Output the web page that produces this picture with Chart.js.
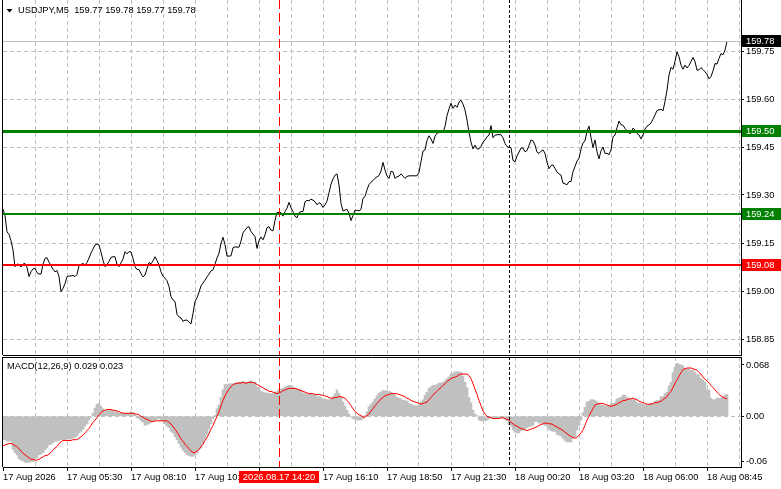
<!DOCTYPE html>
<html>
<head>
<meta charset="utf-8">
<script src="https://cdn.jsdelivr.net/npm/chart.js@4.4.1/dist/chart.umd.min.js"></script>
<style>
  html, body { margin: 0; padding: 0; background: #fff; }
  #wrap { position: relative; width: 781px; height: 489px; overflow: hidden; background: #fff; }
  #priceChart { position: absolute; left: 0; top: 0; }
  #macdChart { position: absolute; left: 0; top: 357px; }
</style>
</head>
<body>
<div id="wrap">
  <canvas id="priceChart" width="781" height="356"></canvas>
  <canvas id="macdChart" width="781" height="132"></canvas>
</div>
<script>
// chart data (one value per M5 bar)
const symbolName = 'USDJPY,M5';
const lastBar = [159.77, 159.78, 159.77, 159.78];

const closes = [
  159.256,159.235,159.185,159.177,159.157,159.128,159.076,159.084,159.083,159.075,
  159.084,159.086,159.074,159.045,159.060,159.069,159.071,159.057,159.053,159.053,
  159.084,159.102,159.104,159.090,159.080,159.068,159.060,159.064,159.045,158.998,
  159.008,159.023,159.045,159.047,159.047,159.049,159.045,159.052,159.079,159.083,
  159.086,159.081,159.089,159.103,159.119,159.131,159.144,159.147,159.144,159.121,
  159.096,159.076,159.082,159.093,159.105,159.107,159.107,159.083,159.076,159.088,
  159.100,159.123,159.116,159.123,159.122,159.102,159.076,159.067,159.067,159.054,
  159.044,159.050,159.070,159.089,159.085,159.094,159.107,159.095,159.082,159.060,
  159.046,159.040,159.032,159.014,158.982,158.972,158.967,158.927,158.919,158.916,
  158.905,158.909,158.909,158.903,158.897,158.930,158.967,158.979,158.996,
  159.016,159.025,159.034,159.044,159.053,159.063,
  159.066,159.084,159.103,159.118,159.149,159.168,159.145,159.109,159.109,159.110,
  159.135,159.138,159.137,159.137,159.156,159.182,159.190,159.198,159.201,159.186,
  159.178,159.170,159.133,159.157,159.169,159.160,159.175,159.198,159.201,159.190,
  159.188,159.221,159.246,159.245,159.245,159.234,159.248,159.259,159.277,159.260,
  159.248,159.234,159.229,159.245,159.248,159.248,159.279,159.283,159.282,159.287,
  159.284,159.279,159.269,159.276,159.272,159.261,159.269,159.281,159.307,159.334,
  159.350,159.362,159.366,159.331,159.274,159.250,159.253,159.255,159.243,159.220,
  159.236,159.253,159.252,159.250,159.255,159.290,159.295,159.316,159.333,159.340,
  159.345,159.352,159.357,159.361,
  159.375,159.402,159.378,159.360,159.352,159.374,159.372,159.352,159.357,159.359,
  159.366,159.359,159.352,159.358,159.360,159.360,159.360,159.360,159.360,159.371,
  159.405,159.437,159.441,159.471,159.485,159.475,159.461,159.484,159.493,159.495,
  159.503,159.496,159.514,159.548,159.569,159.587,159.571,159.581,159.574,159.590,
  159.596,159.584,159.566,159.534,159.496,159.465,159.444,159.456,159.444,159.444,
  159.452,159.465,159.472,159.482,159.487,159.517,159.479,159.487,159.488,159.489,
  159.488,159.479,159.461,159.451,159.449,159.448,159.408,159.404,159.422,159.434,
  159.447,159.447,159.435,159.439,159.455,159.472,159.469,159.456,159.434,159.430,
  159.437,159.441,159.430,159.403,159.382,159.392,159.394,159.383,159.372,159.366,
  159.362,159.337,159.335,159.332,159.342,
  159.342,159.373,159.389,159.406,159.415,159.443,159.463,159.469,159.500,159.515,
  159.480,159.448,159.472,159.435,159.413,159.438,159.450,159.430,159.430,159.426,
  159.441,159.482,159.487,159.510,159.531,159.520,159.518,159.508,159.501,159.493,
  159.493,159.509,159.503,159.492,159.488,159.475,159.488,159.506,159.515,159.519,
  159.525,159.537,159.550,159.564,159.566,159.568,159.563,159.592,159.628,159.675,
  159.699,159.693,159.717,159.747,159.732,159.706,159.693,159.706,159.697,159.705,
  159.717,159.730,159.717,159.690,159.691,159.698,159.692,159.685,159.677,159.663,
  159.670,159.688,159.711,159.709,159.727,159.742,159.738,159.753,159.780
];

const macdHist = [
  -0.031,-0.031,-0.033,-0.033,-0.033,-0.044,-0.048,-0.051,-0.056,-0.058,
  -0.059,-0.061,-0.061,-0.061,-0.060,-0.060,-0.056,-0.055,-0.051,-0.050,
  -0.048,-0.044,-0.042,-0.038,-0.037,-0.035,-0.033,-0.033,-0.032,-0.031,
  -0.031,-0.031,-0.030,-0.030,-0.030,-0.029,-0.028,-0.026,-0.022,-0.020,
  -0.017,-0.013,-0.010,-0.005,-0.001,
  0.004,0.011,0.016,0.017,0.013,0.010,0.006,0.008,0.008,0.008,
  0.007,0.006,0.006,0.004,0.004,0.004,0.004,0.004,0.004,0.006,
  0.005,0.002,-0.002,-0.003,-0.006,-0.008,-0.012,-0.011,-0.010,-0.008,
  -0.007,-0.005,-0.004,-0.003,-0.005,-0.006,-0.010,-0.013,-0.015,-0.020,
  -0.022,-0.027,-0.031,-0.036,-0.041,-0.045,-0.048,-0.051,-0.052,-0.053,
  -0.053,-0.051,-0.048,-0.044,-0.042,-0.036,-0.030,-0.024,-0.017,-0.010,
  -0.003,0.001,0.010,0.015,0.025,0.035,0.042,0.042,0.043,0.043,
  0.043,0.044,0.044,0.045,0.045,0.046,
  0.045,0.045,0.046,0.047,0.045,0.045,0.039,0.038,0.033,0.032,
  0.031,0.031,0.030,0.030,0.030,0.032,0.033,0.036,0.036,0.037,
  0.039,0.040,0.041,0.041,0.039,0.037,0.036,0.036,0.035,0.031,
  0.030,0.030,0.030,0.030,0.029,0.028,0.027,0.026,0.025,0.023,
  0.023,0.022,0.022,0.023,0.026,0.030,0.035,0.030,0.026,0.019,
  0.013,0.008,0.003,0.000,-0.003,-0.004,-0.005,-0.005,-0.005,-0.003,
  0.001,0.006,0.013,0.016,0.019,0.023,0.027,0.031,0.032,0.034,
  0.034,0.034,0.033,0.032,0.030,0.028,0.025,0.024,0.023,0.021,
  0.021,0.020,0.017,0.016,0.015,0.014,0.014,0.015,0.019,0.022,
  0.028,0.032,0.037,0.039,0.041,0.041,0.042,0.044,0.044,0.045,
  0.047,0.050,0.052,0.056,0.057,0.059,0.059,0.059,0.058,0.053,
  0.045,0.038,0.025,0.018,0.008,0.003,0.001,-0.005,-0.006,-0.006,
  -0.006,-0.005,-0.003,
  -0.002,-0.002,-0.002,-0.002,-0.002,-0.002,-0.002,-0.004,-0.006,-0.011,
  -0.013,-0.018,-0.021,-0.022,-0.022,-0.019,-0.018,-0.017,-0.015,-0.014,
  -0.013,-0.012,-0.007,-0.007,-0.009,-0.009,-0.010,-0.012,-0.013,-0.017,
  -0.019,-0.020,-0.020,-0.024,-0.025,-0.026,-0.029,-0.032,-0.034,-0.034,
  -0.034,-0.029,-0.027,-0.018,-0.012,-0.005,0.005,0.012,0.019,0.020,
  0.022,0.022,0.021,0.019,0.016,0.015,0.015,0.014,0.014,0.014,
  0.017,0.017,0.018,0.023,0.024,0.025,0.028,0.028,0.025,0.024,
  0.022,0.022,0.022,0.018,0.017,0.017,0.016,0.015,0.015,0.015,
  0.017,0.017,0.020,0.021,0.021,0.026,0.026,0.030,0.032,0.040,
  0.045,0.058,0.065,0.070,0.069,0.068,0.067,0.063,0.063,0.063,
  0.061,0.061,0.058,0.055,0.055,0.050,0.048,0.045,0.035,0.035,
  0.024,0.022,0.022,0.024,0.024,0.024,0.026,0.028,0.029
];

const macdSignal = [
  -0.039,-0.038,-0.037,-0.036,-0.036,-0.037,-0.039,-0.040,-0.043,-0.046,
  -0.049,-0.051,-0.053,-0.055,-0.057,-0.057,-0.058,-0.058,-0.057,-0.055,
  -0.054,-0.052,-0.052,-0.050,-0.048,-0.045,-0.042,-0.040,-0.036,-0.034,
  -0.032,-0.032,-0.032,-0.032,-0.032,-0.031,-0.031,-0.031,-0.029,-0.027,
  -0.025,-0.022,-0.019,-0.016,-0.012,-0.008,-0.005,-0.002,0.002,0.005,
  0.007,0.008,0.009,0.009,0.009,0.008,0.008,0.007,0.006,0.005,
  0.004,0.004,0.004,0.004,0.004,0.004,0.003,0.003,0.002,0.000,
  -0.001,-0.003,-0.004,-0.005,-0.007,-0.007,-0.006,-0.006,-0.006,-0.006,
  -0.006,-0.006,-0.006,-0.008,-0.010,-0.014,-0.017,-0.021,-0.025,-0.030,
  -0.033,-0.037,-0.040,-0.043,-0.046,-0.048,-0.048,-0.046,-0.044,-0.040,
  -0.037,-0.032,-0.028,-0.023,-0.017,-0.012,-0.006,0.000,0.006,0.014,
  0.021,0.027,0.032,0.036,0.039,0.042,0.043,0.044,0.044,0.044,
  0.045,
  0.044,0.044,0.045,0.045,0.045,0.044,0.042,0.041,0.039,0.038,
  0.036,0.035,0.033,0.033,0.032,0.031,0.030,0.031,0.032,0.034,
  0.035,0.036,0.037,0.037,0.037,0.037,0.036,0.035,0.034,0.033,
  0.032,0.031,0.030,0.030,0.030,0.029,0.029,0.029,0.028,0.028,
  0.027,0.026,0.025,0.024,0.024,0.025,0.025,0.026,0.026,0.025,
  0.024,0.021,0.018,0.014,0.010,0.006,0.004,0.002,0.001,-0.001,
  -0.001,0.001,0.003,0.007,0.010,0.014,0.017,0.020,0.023,0.025,
  0.027,0.028,0.029,0.030,0.030,0.030,0.030,0.029,0.028,0.027,
  0.026,0.024,0.023,0.021,0.020,0.019,0.018,0.017,0.016,0.017,
  0.018,0.019,0.022,0.025,0.028,0.031,0.033,0.036,0.038,0.041,
  0.043,0.046,0.048,0.050,0.051,0.052,0.053,0.055,0.056,0.056,
  0.056,0.056,0.054,0.050,0.043,0.036,0.029,0.021,0.014,0.007,
  0.003,0.000,-0.001,
  -0.002,-0.003,-0.003,-0.003,-0.003,-0.002,-0.002,-0.003,-0.004,-0.005,
  -0.008,-0.010,-0.012,-0.013,-0.015,-0.016,-0.017,-0.018,-0.019,-0.018,
  -0.017,-0.016,-0.015,-0.014,-0.012,-0.011,-0.010,-0.009,-0.009,-0.010,
  -0.010,-0.011,-0.013,-0.014,-0.016,-0.017,-0.019,-0.021,-0.023,-0.025,
  -0.027,-0.028,-0.029,-0.028,-0.025,-0.022,-0.018,-0.012,-0.005,0.000,
  0.006,0.010,0.015,0.016,0.017,0.017,0.017,0.016,0.015,0.014,
  0.013,0.014,0.015,0.016,0.018,0.019,0.021,0.021,0.022,0.023,
  0.023,0.024,0.023,0.022,0.020,0.019,0.018,0.017,0.016,0.016,
  0.016,0.017,0.018,0.018,0.019,0.020,0.022,0.024,0.026,0.030,
  0.033,0.038,0.044,0.048,0.053,0.058,0.062,0.063,0.064,0.064,
  0.064,0.063,0.062,0.061,0.058,0.056,0.052,0.049,0.047,0.044,
  0.041,0.038,0.035,0.032,0.029,0.027,0.025,0.024,0.023
];

// axis ticks
const priceTicks = [158.85, 159.00, 159.15, 159.30, 159.45, 159.60, 159.75];
const macdTicks = [0.068, 0.00, -0.06];
const macdTickLabels = ['0.068', '0.00', '-0.06'];
const timeLabels = ['17 Aug 2026', '17 Aug 05:30', '17 Aug 08:10', '17 Aug 10:50',
  '17 Aug 13:30', '17 Aug 16:10', '17 Aug 18:50', '17 Aug 21:30', '18 Aug 00:20',
  '18 Aug 03:20', '18 Aug 06:00', '18 Aug 08:45'];

// horizontal levels
const levelPrices = [159.78, 159.50, 159.24, 159.08];
const levelColors = ['#c0c0c0', '#008000', '#008000', '#ff0000'];
const levelBoxColors = ['#000000', '#008000', '#008000', '#ff0000'];
const levelWidths = [1, 3, 2, 2];

// crosshair and period separator
const crossBar = 138;
const crossLabel = '2026.08.17 14:20';
const separatorBar = 253;

const FONT = '"Liberation Sans", Arial, sans-serif';
const FSIZE = 9.3;
const BARS_SHOWN = 369;
const BAR_STEP = 16;
const LABEL_EVERY = 32;

const gridBars = [];
for (let b = 0; b <= BARS_SHOWN; b += BAR_STEP) gridBars.push(b);

function vLine(ctx, x, top, bottom, color, dash) {
    ctx.save();
    ctx.strokeStyle = color;
    ctx.lineWidth = 1;
    ctx.setLineDash(dash);
    ctx.beginPath();
    ctx.moveTo(x, top);
    ctx.lineTo(x, bottom);
    ctx.stroke();
    ctx.restore();
}

// y axes: fixed width, no extra room for the end labels
function fitRight(s) {
    s.width = 40;
    s.paddingTop = 0;
    s.paddingBottom = 0;
}

const markers = {
    id: 'markers',
    afterDatasetsDraw(chart) {
        const { ctx, chartArea: a, scales: { x } } = chart;
        const sx = Math.round(x.getPixelForValue(separatorBar)) + 0.5;
        vLine(ctx, sx, a.top, a.bottom, '#000', [3, 2]);
        const cx = Math.round(x.getPixelForValue(crossBar)) + 0.5;
        vLine(ctx, cx, a.top, a.bottom, '#ff0000', [9, 4]);
        // left frame
        vLine(ctx, 2.5, a.top, a.bottom, '#000', []);
    }
};

const levels = {
    id: 'levels',
    afterDatasetsDraw(chart) {
        const { ctx, chartArea: a, scales: { y } } = chart;
        levelPrices.forEach((p, i) => {
            let py = Math.round(y.getPixelForValue(p));
            if (levelWidths[i] % 2) py += 0.5;
            ctx.save();
            ctx.strokeStyle = levelColors[i];
            ctx.lineWidth = levelWidths[i];
            ctx.beginPath();
            ctx.moveTo(a.left, py);
            ctx.lineTo(a.right, py);
            ctx.stroke();
            ctx.restore();
        });
    },
    afterDraw(chart) {
        const { ctx, chartArea: a, scales: { y } } = chart;
        ctx.save();
        ctx.font = FSIZE + 'px ' + FONT;
        ctx.textBaseline = 'middle';
        ctx.textAlign = 'left';
        levelPrices.forEach((p, i) => {
            const py = Math.round(y.getPixelForValue(p));
            ctx.fillStyle = levelBoxColors[i];
            ctx.fillRect(a.right + 1, py - 6, 40, 12);
            ctx.fillStyle = '#fff';
            ctx.fillText(p.toFixed(2), a.right + 5, py);
        });
        // title
        ctx.fillStyle = '#000';
        ctx.beginPath();
        ctx.moveTo(6.5, 9);
        ctx.lineTo(12.5, 9);
        ctx.lineTo(9.5, 12.5);
        ctx.closePath();
        ctx.fill();
        ctx.fillText(symbolName + '  ' + lastBar.map(v => v.toFixed(2)).join(' '), 18, 10.5);
        ctx.restore();
    }
};

const macdText = {
    id: 'macdText',
    afterDraw(chart) {
        const { ctx, chartArea: a, scales: { x } } = chart;
        ctx.save();
        ctx.font = FSIZE + 'px ' + FONT;
        ctx.textBaseline = 'middle';
        ctx.textAlign = 'left';
        ctx.fillStyle = '#000';
        const n = macdHist.length - 1;
        ctx.fillText('MACD(12,26,9) ' + macdHist[n].toFixed(3) + ' ' + macdSignal[n].toFixed(3), 7, 9.5);
        // top frame
        ctx.strokeStyle = '#000';
        ctx.lineWidth = 1;
        ctx.beginPath();
        ctx.moveTo(2, 0.5);
        ctx.lineTo(a.right, 0.5);
        ctx.stroke();
        // crosshair time label
        const cx = Math.round(x.getPixelForValue(crossBar));
        ctx.fillStyle = '#ff0000';
        ctx.fillRect(cx - 40, a.bottom + 4, 80, 12);
        ctx.fillStyle = '#fff';
        ctx.textAlign = 'center';
        ctx.fillText(crossLabel, cx, a.bottom + 10);
        ctx.restore();
    }
};

const hidden = 'rgba(0,0,0,0)';

new Chart(document.getElementById('priceChart'), {
    type: 'line',
    data: {
        datasets: [{
            data: closes.map((v, i) => ({ x: i, y: v })),
            borderColor: '#000',
            borderWidth: 1,
            pointRadius: 0,
            tension: 0
        }]
    },
    options: {
        responsive: false,
        animation: false,
        devicePixelRatio: 1,
        events: [],
        layout: { padding: { left: 3, top: 0, right: 0, bottom: 1 } },
        plugins: { legend: { display: false }, tooltip: { enabled: false } },
        scales: {
            x: {
                type: 'linear',
                min: 0,
                max: BARS_SHOWN,
                bounds: 'data',
                afterBuildTicks: s => { s.ticks = gridBars.map(v => ({ value: v })); },
                afterFit: s => { s.height = 0; s.paddingLeft = 0; s.paddingRight = 0; },
                ticks: { display: false },
                grid: { color: c => (c.tick && c.tick.value === 0 ? hidden : '#c0c0c0'), drawTicks: false },
                border: { display: true, color: '#000', dash: [4, 3] }
            },
            y: {
                position: 'right',
                min: 158.8,
                max: 159.909375,
                bounds: 'data',
                afterBuildTicks: s => { s.ticks = priceTicks.map(v => ({ value: v })); },
                afterFit: fitRight,
                ticks: {
                    callback: v => Number(v).toFixed(2),
                    color: '#000',
                    font: { family: FONT, size: FSIZE },
                    padding: 2
                },
                grid: { color: '#c0c0c0', tickColor: '#000', tickLength: 3 },
                border: { display: true, color: '#000', dash: [4, 3] }
            }
        }
    },
    plugins: [levels, markers]
});

new Chart(document.getElementById('macdChart'), {
    type: 'line',
    data: {
        datasets: [{
            type: 'line',
            data: macdSignal.map((v, i) => ({ x: i, y: v })),
            borderColor: '#ff0000',
            borderWidth: 1,
            pointRadius: 0,
            tension: 0,
            order: 0
        }, {
            type: 'bar',
            data: macdHist.map((v, i) => ({ x: i, y: v })),
            backgroundColor: '#c0c0c0',
            borderWidth: 0,
            barPercentage: 1,
            categoryPercentage: 1,
            order: 1
        }]
    },
    options: {
        responsive: false,
        animation: false,
        devicePixelRatio: 1,
        events: [],
        layout: { padding: { left: 3, top: 0, right: 0, bottom: 0 } },
        plugins: { legend: { display: false }, tooltip: { enabled: false } },
        scales: {
            x: {
                type: 'linear',
                min: 0,
                max: BARS_SHOWN,
                bounds: 'data',
                offset: false,
                afterBuildTicks: s => { s.ticks = gridBars.map(v => ({ value: v })); },
                afterFit: s => { s.height = 22; s.paddingLeft = 0; s.paddingRight = 0; },
                ticks: {
                    align: 'start',
                    autoSkip: false,
                    maxRotation: 0,
                    color: '#000',
                    font: { family: FONT, size: FSIZE },
                    padding: 1,
                    callback: v => (v % LABEL_EVERY === 0 ? timeLabels[v / LABEL_EVERY] : '')
                },
                grid: {
                    offset: false,
                    color: c => (c.tick && c.tick.value === 0 ? hidden : '#c0c0c0'),
                    tickColor: c => (c.tick && c.tick.value % LABEL_EVERY === 0 ? '#000' : hidden),
                    tickLength: 4
                },
                border: { display: true, color: '#000', dash: [4, 3] }
            },
            y: {
                position: 'right',
                min: -0.06715,
                max: 0.07854,
                bounds: 'data',
                beginAtZero: false,
                afterBuildTicks: s => { s.ticks = macdTicks.map(v => ({ value: v })); },
                afterFit: fitRight,
                ticks: {
                    callback: (v, i) => macdTickLabels[i],
                    color: '#000',
                    font: { family: FONT, size: FSIZE },
                    padding: 2
                },
                grid: {
                    color: c => (c.tick && c.tick.value === 0 ? '#c0c0c0' : hidden),
                    tickColor: '#000',
                    tickLength: 3
                },
                border: { display: true, color: '#000', dash: [4, 3] }
            }
        }
    },
    plugins: [markers, macdText]
});
</script>
</body>
</html>
